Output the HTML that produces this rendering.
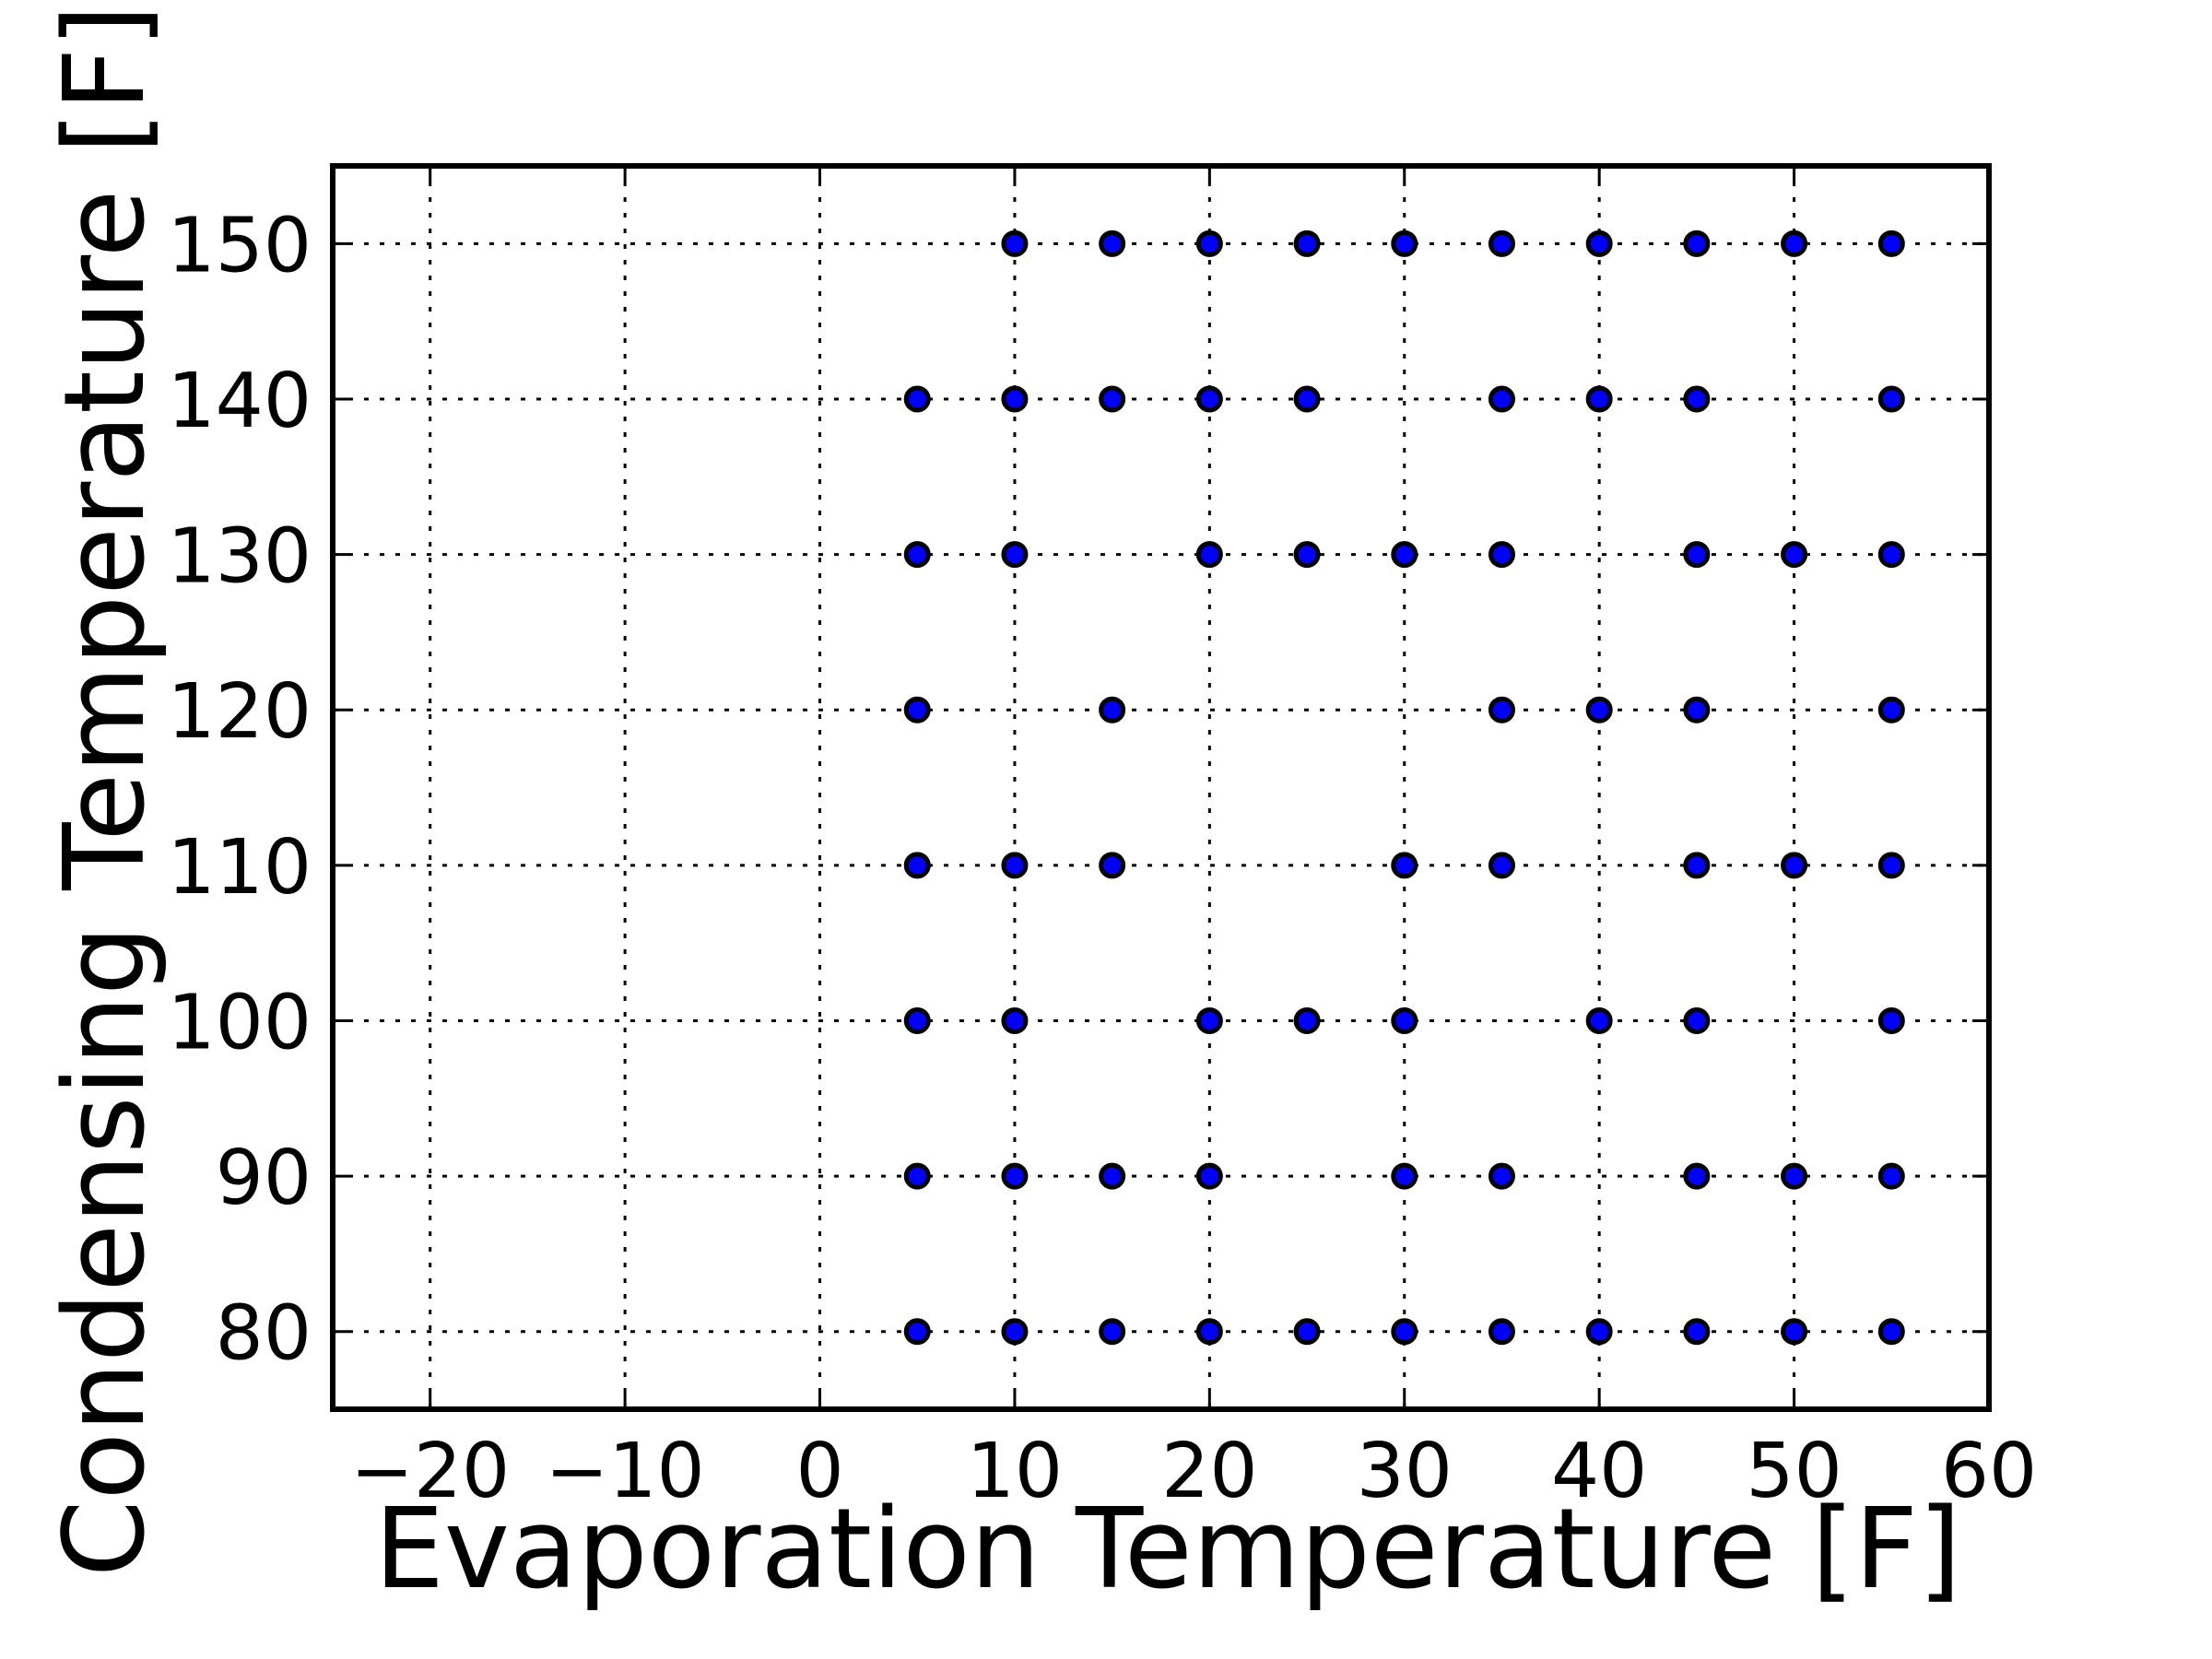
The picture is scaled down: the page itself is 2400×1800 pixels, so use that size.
<!DOCTYPE html>
<html><head><meta charset="utf-8"><style>html,body{margin:0;padding:0;background:#fff}svg{display:block}</style></head>
<body>
<svg id="chart" width="2400" height="1800" xmlns="http://www.w3.org/2000/svg" font-family="DejaVu Sans, Liberation Sans, sans-serif">
<g id="grid"></g>
<g id="ticks"></g>
<g id="points"></g>
<rect x="361" y="180" width="1797" height="1349" fill="none" stroke="#000" stroke-width="6"/>
<text x="1267" y="1722" font-size="120" text-anchor="middle">Evaporation Temperature [F]</text>
<text transform="translate(155,858) rotate(-90)" font-size="120" text-anchor="middle">Condensing Temperature [F]</text>
</svg>
<script>
const xTicks = [-20,-10,0,10,20,30,40,50,60];
const yTicks = [80,90,100,110,120,130,140,150];
const rowY = [150,140,130,120,110,100,90,80];
const rowX = [
 [10,15,20,25,30,35,40,45,50,55],
 [5,10,15,20,25,35,40,45,55],
 [5,10,20,25,30,35,45,50,55],
 [5,15,35,40,45,55],
 [5,10,15,30,35,45,50,55],
 [5,10,20,25,30,40,45,55],
 [5,10,15,20,30,35,45,50,55],
 [5,10,15,20,25,30,35,40,45,50,55]
];
const X0=361,X1=2158,Y0=180,Y1=1529,xmin=-25,xmax=60,ymin=75,ymax=155;
const sx=v=>X0+(v-xmin)/(xmax-xmin)*(X1-X0);
const sy=v=>Y1-(v-ymin)/(ymax-ymin)*(Y1-Y0);
const NS='http://www.w3.org/2000/svg';
function mk(tag,attrs,parent){const e=document.createElementNS(NS,tag);for(const k in attrs)e.setAttribute(k,attrs[k]);parent.appendChild(e);return e;}
const grid=document.getElementById('grid'),ticks=document.getElementById('ticks'),pts=document.getElementById('points');
const fmt=v=>v<0?'\u2212'+(-v):String(v);
xTicks.forEach(v=>{const x=sx(v);
 if(v>xmin&&v<xmax){const g=mk('line',{x1:x,x2:x,y1:Y0,y2:Y1,stroke:'#000','stroke-width':3,'stroke-dasharray':'5 12'},grid);
 
 
 const t1=mk('line',{x1:x,x2:x,y1:Y1,y2:Y1-18,stroke:'#000','stroke-width':3},ticks);
 
 
 const t2=mk('line',{x1:x,x2:x,y1:Y0,y2:Y0+18,stroke:'#000','stroke-width':3},ticks);
 
 }
 const t=mk('text',{x:x,y:1624,'font-size':82,'text-anchor':'middle'},ticks);t.textContent=fmt(v);
 
 
});
yTicks.forEach(v=>{const y=sy(v);
 const g=mk('line',{x1:X0,x2:X1,y1:y,y2:y,stroke:'#000','stroke-width':3,'stroke-dasharray':'5 12'},grid);
 
 
 const t1=mk('line',{x1:X0,x2:X0+18,y1:y,y2:y,stroke:'#000','stroke-width':3},ticks);
 
 
 const t2=mk('line',{x1:X1,x2:X1-18,y1:y,y2:y,stroke:'#000','stroke-width':3},ticks);
 
 
 const t=mk('text',{x:338,y:y+30,'font-size':82,'text-anchor':'end'},ticks);t.textContent=fmt(v);
 
 
});
rowY.forEach((yv,i)=>rowX[i].forEach(xv=>{
 const c=mk('circle',{cx:sx(xv),cy:sy(yv),r:12,fill:'#0000ff',stroke:'#000','stroke-width':5},pts);
 
 
}));
</script>
</body></html>
